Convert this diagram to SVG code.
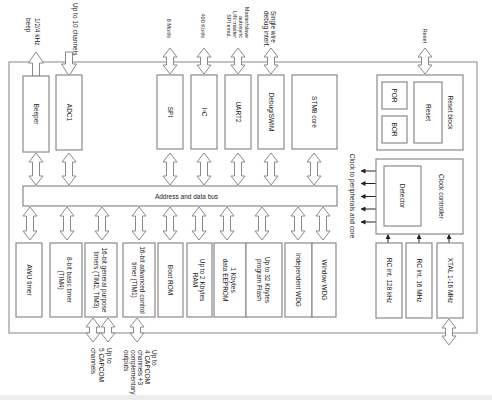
<svg xmlns="http://www.w3.org/2000/svg" xmlns:xlink="http://www.w3.org/1999/xlink" width="492" height="400" viewBox="0 0 492 400">
<style>
.box{fill:#fff;stroke:#8a8a8a;stroke-width:1.2}
.outer{fill:none;stroke:#9a9a9a;stroke-width:1.2}
.arr{fill:#fff;stroke:#8a8a8a;stroke-width:1}
.t{font-family:"Liberation Sans",Arial,sans-serif;font-size:6.5px;fill:#222;text-anchor:middle;dominant-baseline:central}
.s{text-anchor:start}
.e{text-anchor:end}
.sm{font-size:5.5px}
.ln{stroke:#222;stroke-width:1;fill:none;marker-end:url(#ah)}
</style>
<defs>
<marker id="ah" viewBox="0 0 10 10" refX="9" refY="5" markerWidth="5" markerHeight="5" orient="auto" markerUnits="userSpaceOnUse"><path d="M0 0L10 5L0 10z" fill="#222"/></marker>
<path id="d32" class="arr" d="M0 0l7 9h-3.5V23h3.5l-7 9l-7 -9h3.5V9h-3.5z"/>
<path id="d33" class="arr" d="M0 0l7 9h-3.5V24h3.5l-7 9l-7 -9h3.5V9h-3.5z"/>
<path id="d26" class="arr" d="M0 0l7 9h-3.5V17h3.5l-7 9l-7 -9h3.5V9h-3.5z"/>
<path id="d24" class="arr" d="M0 0l7 9h-3.5V15h3.5l-7 9l-7 -9h3.5V9h-3.5z"/>
</defs>
<rect x="0" y="0" width="492" height="400" fill="#fff"/>
<rect x="0" y="395" width="492" height="5" fill="#ececec"/>
<rect class="outer" x="9" y="62" width="468" height="271"/>

<g id="connectors">
<path class="arr" d="M36 52l7.5 11h-4V76h-7V63h-4z"/>
<path class="arr" d="M65.5 52h7V64h4L69 76L61.5 64h4z"/>
<use href="#d26" x="170" y="48"/>
<use href="#d26" x="204" y="48"/>
<use href="#d26" x="238" y="48"/>
<use href="#d26" x="271" y="48"/>
<use href="#d26" x="425" y="48"/>
<use href="#d32" x="36" y="153"/>
<use href="#d32" x="69" y="153"/>
<use href="#d32" x="170" y="153"/>
<use href="#d32" x="204" y="153"/>
<use href="#d32" x="238" y="153"/>
<use href="#d32" x="271" y="153"/>
<use href="#d32" x="314" y="153"/>
<use href="#d33" x="30" y="207"/>
<use href="#d33" x="67" y="207"/>
<use href="#d33" x="102" y="207"/>
<use href="#d33" x="139" y="207"/>
<use href="#d33" x="170" y="207"/>
<use href="#d33" x="199" y="207"/>
<use href="#d33" x="227" y="207"/>
<use href="#d33" x="262" y="207"/>
<use href="#d33" x="298" y="207"/>
<use href="#d33" x="323" y="207"/>
<use href="#d24" x="93" y="318"/>
<use href="#d24" x="108" y="318"/>
<use href="#d24" x="137" y="318"/>
<use href="#d26" x="449" y="319"/>
<line class="ln" x1="376" y1="171" x2="361" y2="171"/>
<line class="ln" x1="376" y1="183.5" x2="361" y2="183.5"/>
<line class="ln" x1="376" y1="196.5" x2="361" y2="196.5"/>
<line class="ln" x1="376" y1="209" x2="361" y2="209"/>
<line class="ln" x1="376" y1="222" x2="361" y2="222"/>
<line class="ln" x1="388" y1="243" x2="388" y2="234.5"/>
<line class="ln" x1="419" y1="243" x2="419" y2="234.5"/>
<line class="ln" x1="449" y1="243" x2="449" y2="234.5"/>
</g>

<g id="labels">
<text class="t s" transform="translate(33.5,18) rotate(90)"><tspan x="0" y="-4.5">1/2/4 kHz</tspan><tspan x="0" y="4.5">beep</tspan></text>
<text class="t s" transform="translate(75,3) rotate(90)">Up to 10 channels</text>
<text class="t e sm" transform="translate(169,38) rotate(90)">8 Mbit/s</text>
<text class="t e sm" transform="translate(203,38) rotate(90)">400 Kbit/s</text>
<text class="t e sm" transform="translate(238,38) rotate(90)"><tspan x="0" y="-9">Master/slave</tspan><tspan x="0" y="-3">autosync</tspan><tspan x="0" y="3">LIN master</tspan><tspan x="0" y="9">SPI emul.</tspan></text>
<text class="t s" transform="translate(270.5,11) rotate(90)"><tspan x="0" y="-3.5">Single wire</tspan><tspan x="0" y="3.5">debug interf.</tspan></text>
<text class="t sm" transform="translate(425,36) rotate(90)">Reset</text>
<text class="t" transform="translate(352,196) rotate(90)">Clock to peripherals and core</text>
<text class="t s" transform="translate(102,348) rotate(90)"><tspan x="0" y="-8">Up to</tspan><tspan x="0" y="0">5 CAPCOM</tspan><tspan x="0" y="8">channels</tspan></text>
<text class="t s" transform="translate(141,350) rotate(90)"><tspan x="0" y="-14">Up to</tspan><tspan x="0" y="-7">4 CAPCOM</tspan><tspan x="0" y="0">channels +3</tspan><tspan x="0" y="7">complementary</tspan><tspan x="0" y="14">outputs</tspan></text>
</g>

<g id="beeper"><rect class="box" x="23" y="76" width="26" height="76"/><text class="t" transform="translate(36,114) rotate(90)">Beeper</text></g>
<g id="adc1"><rect class="box" x="56" y="75" width="26" height="75"/><text class="t" transform="translate(69,112.5) rotate(90)">ADC1</text></g>
<g id="spi"><rect class="box" x="157" y="75" width="26" height="74"/><text class="t" transform="translate(170,112) rotate(90)">SPI</text></g>
<g id="i2c"><rect class="box" x="191" y="75" width="26" height="74"/><text class="t" transform="translate(204,112) rotate(90)">I²C</text></g>
<g id="uart2"><rect class="box" x="225" y="75" width="26" height="74"/><text class="t" transform="translate(238,112) rotate(90)">UART2</text></g>
<g id="debug"><rect class="box" x="258" y="75" width="26" height="74"/><text class="t" transform="translate(271,112) rotate(90)">Debug/SWIM</text></g>
<g id="core"><rect class="box" x="292" y="75" width="45" height="74"/><text class="t" transform="translate(314.5,112) rotate(90)">STM8 core</text></g>

<g id="resetblock"><rect class="box" x="377" y="75" width="86" height="75"/><text class="t" transform="translate(450,112.5) rotate(90)">Reset block</text></g>
<g id="por"><rect class="box" x="382" y="82" width="25" height="27"/><text class="t" transform="translate(394.5,95.5) rotate(90)">POR</text></g>
<g id="bor"><rect class="box" x="382" y="116" width="25" height="27"/><text class="t" transform="translate(394.5,129.5) rotate(90)">BOR</text></g>
<g id="reset"><rect class="box" x="414" y="82" width="28" height="61"/><text class="t" transform="translate(428,112.5) rotate(90)">Reset</text></g>

<g id="clockctrl"><rect class="box" x="376" y="159" width="87" height="75"/><text class="t" transform="translate(441,196.5) rotate(90)">Clock controller</text></g>
<g id="detector"><rect class="box" x="384" y="166" width="37" height="60"/><text class="t" transform="translate(402.5,196) rotate(90)">Detector</text></g>

<g id="rc128"><rect class="box" x="376" y="243" width="26" height="75"/><text class="t" transform="translate(389,280.5) rotate(90)">RC int. 128 kHz</text></g>
<g id="rc16"><rect class="box" x="406" y="243" width="26" height="75"/><text class="t" transform="translate(419,280.5) rotate(90)">RC int. 16 MHz</text></g>
<g id="xtal"><rect class="box" x="437" y="243" width="26" height="75"/><text class="t" transform="translate(450,280.5) rotate(90)">XTAL 1-16 MHz</text></g>

<g id="bus"><rect class="box" x="23" y="186" width="314" height="20"/><text class="t" x="186.5" y="196">Address and data bus</text></g>

<g id="awu"><rect class="box" x="16" y="243" width="26" height="74"/><text class="t" transform="translate(29,280) rotate(90)">AWU timer</text></g>
<g id="tim4"><rect class="box" x="50" y="243" width="32" height="74"/><text class="t" transform="translate(66,280) rotate(90)"><tspan x="0" y="-3.6">8-bit basic timer</tspan><tspan x="0" y="3.6">(TIM4)</tspan></text></g>
<g id="tim23"><rect class="box" x="85" y="243" width="32" height="74"/><text class="t" transform="translate(101,280) rotate(90)"><tspan x="0" y="-3.8">16-bit general purpose</tspan><tspan x="0" y="3.8">timers (TIM2, TIM3)</tspan></text></g>
<g id="tim1"><rect class="box" x="123" y="243" width="32" height="74"/><text class="t" transform="translate(139,280) rotate(90)"><tspan x="0" y="-3.6">16-bit advanced control</tspan><tspan x="0" y="3.6">timer (TIM1)</tspan></text></g>
<g id="bootrom"><rect class="box" x="158" y="243" width="25" height="74"/><text class="t" transform="translate(170.5,280) rotate(90)">Boot ROM</text></g>
<g id="ram"><rect class="box" x="187" y="243" width="25" height="74"/><text class="t" transform="translate(199.5,280) rotate(90)"><tspan x="0" y="-3.6">Up to 2 Kbytes</tspan><tspan x="0" y="3.6">RAM</tspan></text></g>
<g id="eeprom"><rect class="box" x="214" y="243" width="32" height="74"/><text class="t" transform="translate(230,280) rotate(90)"><tspan x="0" y="-3.6">1 Kbytes</tspan><tspan x="0" y="3.6">data EEPROM</tspan></text></g>
<g id="flash"><rect class="box" x="246" y="243" width="36" height="74"/><text class="t" transform="translate(264,280) rotate(90)"><tspan x="0" y="-3.6">Up to 32 Kbytes</tspan><tspan x="0" y="3.6">program Flash</tspan></text></g>
<g id="iwdg"><rect class="box" x="285" y="243" width="27" height="74"/><text class="t" transform="translate(298.5,280) rotate(90)">Independent WDG</text></g>
<g id="wwdg"><rect class="box" x="312" y="243" width="24" height="74"/><text class="t" transform="translate(324,280) rotate(90)">Window WDG</text></g>
</svg>
